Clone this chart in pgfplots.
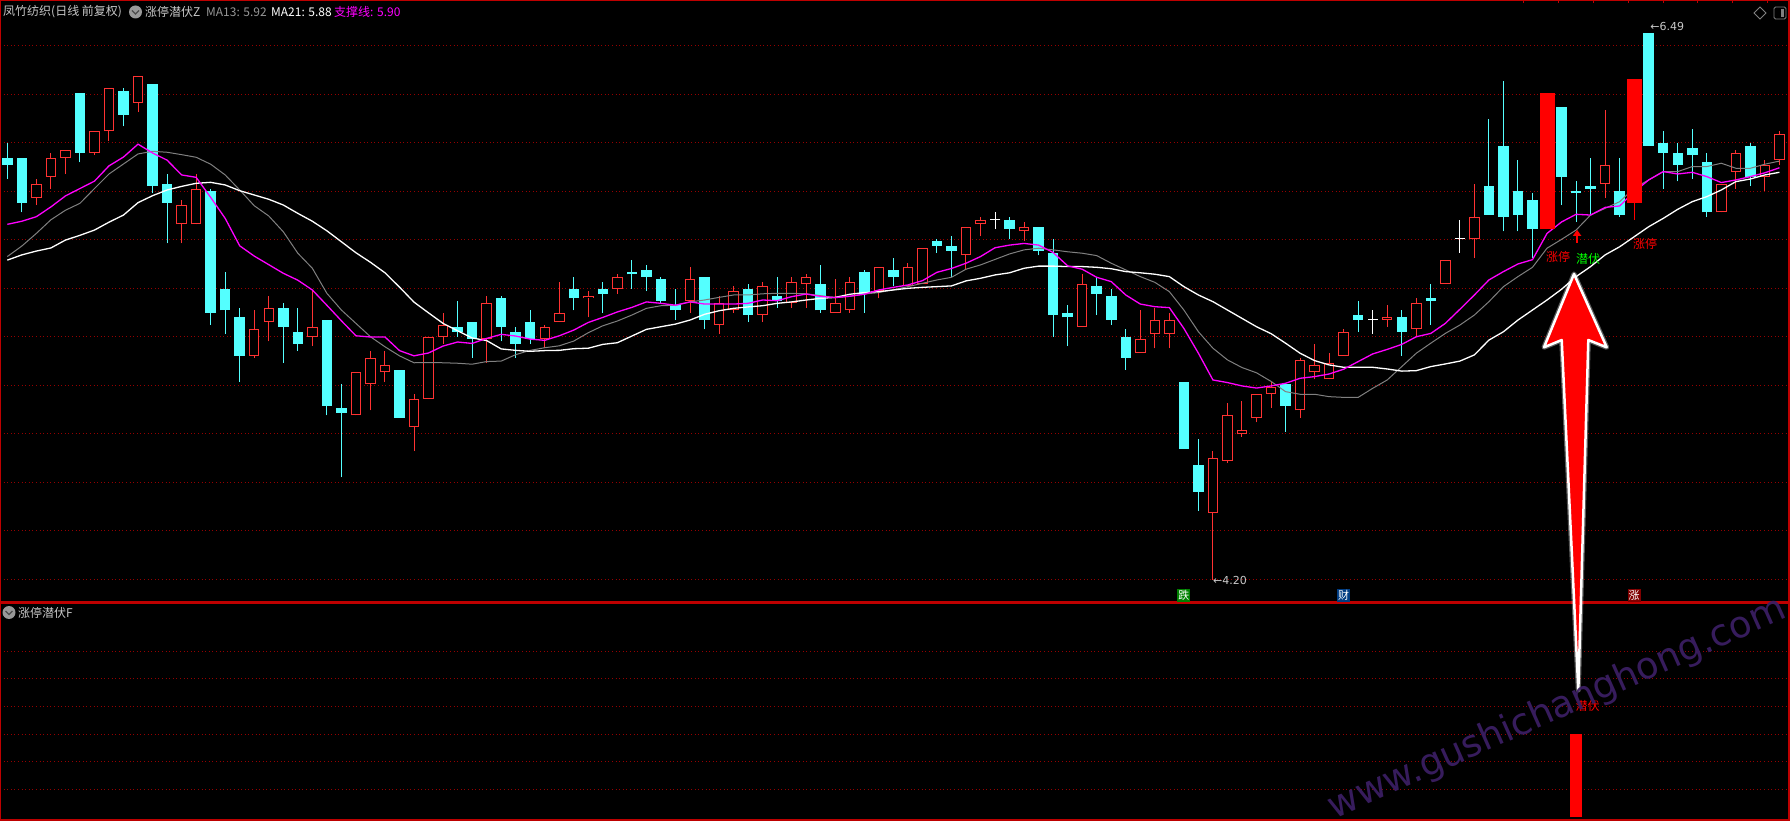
\documentclass[border=0pt]{standalone}
\usepackage{pgfplots}
\pgfplotsset{compat=1.18}
\usepackage{pgfplotstable}
\usepackage{fontspec}
\usetikzlibrary{arrows.meta}
\newfontfamily\cjk{Noto Sans CJK SC}
\newfontfamily\dv{DejaVu Sans}
\definecolor{cy}{RGB}{84,255,255}
\definecolor{rd}{RGB}{255,50,50}
\definecolor{lim}{RGB}{255,0,0}
\definecolor{gridred}{RGB}{150,0,0}
\definecolor{bord}{RGB}{190,0,0}
\definecolor{mag}{RGB}{255,0,255}
\definecolor{maG}{RGB}{128,128,128}
\definecolor{txtg}{RGB}{200,200,200}
\definecolor{wm}{RGB}{58,30,98}

% up candles (hollow red)
\pgfplotstableread{
i o h l c
2 5.80 5.88 5.77 5.86
3 5.89 5.99 5.84 5.97
4 5.97 6.00 5.90 6.00
6 5.99 6.08 5.98 6.08
7 6.08 6.26 6.04 6.26
9 6.20 6.31 6.16 6.31
12 5.69 5.79 5.61 5.77
13 5.69 5.90 5.69 5.84
17 5.14 5.33 5.13 5.25
18 5.28 5.39 5.20 5.34
21 5.22 5.41 5.18 5.26
24 4.89 5.07 4.89 5.07
25 5.02 5.16 4.91 5.13
26 5.07 5.16 5.03 5.10
28 4.84 4.98 4.74 4.96
29 4.96 5.22 4.96 5.22
30 5.22 5.32 5.19 5.27
33 5.21 5.39 5.11 5.36
37 5.21 5.27 5.17 5.26
38 5.28 5.45 5.28 5.32
40 5.38 5.41 5.30 5.39
42 5.42 5.48 5.40 5.47
47 5.37 5.51 5.32 5.46
49 5.27 5.39 5.23 5.36
50 5.33 5.43 5.32 5.41
52 5.31 5.45 5.28 5.43
54 5.36 5.47 5.34 5.45
55 5.44 5.48 5.34 5.47
57 5.32 5.46 5.32 5.36
58 5.33 5.47 5.32 5.45
60 5.41 5.51 5.38 5.51
62 5.43 5.53 5.43 5.51
63 5.44 5.59 5.44 5.59
66 5.56 5.68 5.50 5.68
67 5.69 5.72 5.64 5.71
70 5.66 5.70 5.62 5.68
74 5.26 5.48 5.26 5.44
78 5.15 5.33 5.15 5.21
79 5.23 5.34 5.17 5.29
80 5.23 5.32 5.17 5.29
83 4.48 4.74 4.20 4.71
84 4.70 4.94 4.69 4.89
85 4.81 4.95 4.80 4.83
86 4.88 4.98 4.86 4.98
87 4.98 5.03 4.92 5.01
89 4.91 5.13 4.88 5.12
90 5.07 5.19 5.04 5.10
91 5.04 5.15 5.04 5.11
92 5.14 5.25 5.14 5.24
95 5.29 5.35 5.26 5.30
97 5.25 5.38 5.22 5.36
99 5.44 5.54 5.44 5.54
101 5.63 5.86 5.55 5.72
110 5.86 6.17 5.80 5.94
118 5.74 5.86 5.74 5.86
119 5.91 6.00 5.84 5.99
121 5.89 5.96 5.83 5.94
122 5.96 6.08 5.94 6.07
}\redtab

% down candles (filled cyan)
\pgfplotstableread{
i o h l c
0 5.97 6.03 5.88 5.94
1 5.97 5.97 5.74 5.78
5 6.24 6.24 5.95 5.99
8 6.25 6.26 6.10 6.15
10 6.28 6.28 5.82 5.85
11 5.86 5.90 5.61 5.78
14 5.83 5.84 5.27 5.32
15 5.42 5.49 5.23 5.33
16 5.30 5.34 5.03 5.14
19 5.34 5.36 5.11 5.26
20 5.24 5.34 5.16 5.19
22 5.29 5.29 4.89 4.93
23 4.92 5.02 4.63 4.90
27 5.08 5.08 4.88 4.88
31 5.26 5.37 5.22 5.24
32 5.28 5.28 5.13 5.21
34 5.38 5.39 5.20 5.26
35 5.24 5.26 5.13 5.19
36 5.28 5.33 5.19 5.21
39 5.42 5.47 5.33 5.38
41 5.42 5.45 5.32 5.40
43 5.49 5.54 5.42 5.48
44 5.50 5.52 5.41 5.47
45 5.46 5.47 5.36 5.37
46 5.35 5.42 5.29 5.33
48 5.47 5.47 5.25 5.29
51 5.42 5.44 5.28 5.31
53 5.39 5.47 5.34 5.37
56 5.44 5.52 5.32 5.33
59 5.49 5.50 5.32 5.40
61 5.50 5.55 5.43 5.47
64 5.62 5.63 5.57 5.60
65 5.60 5.64 5.47 5.58
69 5.71 5.72 5.63 5.67
71 5.68 5.68 5.56 5.58
72 5.57 5.63 5.22 5.31
73 5.32 5.35 5.18 5.30
75 5.43 5.47 5.31 5.40
76 5.39 5.42 5.27 5.29
77 5.22 5.25 5.08 5.13
81 5.03 5.03 4.75 4.75
82 4.68 4.79 4.49 4.57
88 5.02 5.02 4.82 4.93
93 5.31 5.37 5.24 5.29
96 5.30 5.33 5.14 5.24
98 5.38 5.44 5.27 5.37
102 5.85 6.13 5.73 5.73
103 6.02 6.29 5.66 5.72
104 5.83 5.96 5.66 5.73
105 5.79 5.82 5.55 5.67
107 6.18 6.18 5.77 5.89
108 5.83 5.87 5.70 5.82
109 5.85 5.97 5.73 5.84
111 5.83 5.97 5.72 5.73
113 6.49 6.49 6.02 6.02
114 6.03 6.08 5.84 5.99
115 5.99 6.03 5.87 5.94
116 6.01 6.09 5.88 5.98
117 5.95 5.99 5.72 5.74
120 6.02 6.03 5.85 5.89
}\cyantab

% doji crosses (white)
\pgfplotstableread{
i o h l c
68 5.71 5.74 5.67 5.71
94 5.29 5.33 5.23 5.29
100 5.63 5.71 5.57 5.63
}\crosstab

% limit-up bars (filled red)
\pgfplotstableread{
i o h l c
106 5.67 6.24 5.67 6.24
112 5.78 6.30 5.71 6.30
}\limtab

% support line, MA13, MA21
\pgfplotstableread{
i sup m13 m21
0 5.690 5.555 5.540
1 5.703 5.599 5.562
2 5.722 5.652 5.578
3 5.763 5.709 5.591
4 5.809 5.749 5.624
5 5.840 5.778 5.644
6 5.871 5.840 5.666
7 5.935 5.901 5.699
8 5.972 5.943 5.729
9 6.026 5.985 5.781
10 5.989 5.996 5.810
11 5.959 5.992 5.834
12 5.897 5.982 5.849
13 5.887 5.971 5.862
14 5.803 5.942 5.866
15 5.715 5.897 5.855
16 5.600 5.834 5.831
17 5.557 5.768 5.813
18 5.521 5.725 5.795
19 5.485 5.659 5.771
20 5.456 5.569 5.736
21 5.415 5.506 5.703
22 5.351 5.401 5.663
23 5.286 5.331 5.617
24 5.223 5.275 5.571
25 5.218 5.219 5.531
26 5.218 5.177 5.487
27 5.161 5.139 5.427
28 5.139 5.110 5.364
29 5.151 5.111 5.319
30 5.180 5.110 5.275
31 5.197 5.108 5.244
32 5.191 5.104 5.214
33 5.212 5.115 5.203
34 5.229 5.117 5.168
35 5.222 5.144 5.162
36 5.209 5.162 5.158
37 5.204 5.173 5.161
38 5.223 5.181 5.162
39 5.247 5.201 5.169
40 5.279 5.236 5.171
41 5.300 5.265 5.187
42 5.323 5.285 5.194
43 5.342 5.310 5.222
44 5.365 5.338 5.250
45 5.359 5.349 5.261
46 5.351 5.351 5.272
47 5.365 5.365 5.289
48 5.356 5.373 5.313
49 5.356 5.384 5.328
50 5.356 5.394 5.338
51 5.359 5.394 5.344
52 5.373 5.399 5.349
53 5.370 5.401 5.359
54 5.387 5.401 5.365
55 5.398 5.399 5.373
56 5.388 5.391 5.380
57 5.383 5.383 5.384
58 5.389 5.388 5.397
59 5.397 5.398 5.404
60 5.415 5.404 5.408
61 5.426 5.416 5.415
62 5.436 5.429 5.422
63 5.454 5.443 5.426
64 5.489 5.457 5.429
65 5.505 5.468 5.432
66 5.527 5.502 5.453
67 5.555 5.520 5.464
68 5.592 5.543 5.478
69 5.603 5.566 5.487
70 5.610 5.583 5.506
71 5.603 5.590 5.515
72 5.572 5.583 5.515
73 5.516 5.575 5.513
74 5.502 5.569 5.513
75 5.468 5.559 5.510
76 5.450 5.527 5.504
77 5.394 5.499 5.492
78 5.356 5.471 5.487
79 5.345 5.447 5.481
80 5.341 5.408 5.471
81 5.254 5.331 5.429
82 5.150 5.240 5.394
83 5.038 5.171 5.366
84 5.027 5.122 5.331
85 5.013 5.090 5.296
86 5.004 5.068 5.261
87 5.013 5.032 5.232
88 5.024 4.989 5.192
89 5.045 4.978 5.150
90 5.052 4.978 5.119
91 5.063 4.968 5.101
92 5.083 4.965 5.091
93 5.115 4.965 5.091
94 5.147 5.003 5.091
95 5.166 5.038 5.084
96 5.187 5.094 5.075
97 5.219 5.150 5.077
98 5.233 5.192 5.094
99 5.275 5.233 5.105
100 5.334 5.268 5.117
101 5.394 5.310 5.143
102 5.457 5.366 5.205
103 5.492 5.429 5.240
104 5.524 5.471 5.289
105 5.542 5.510 5.331
106 5.652 5.590 5.373
107 5.700 5.627 5.418
108 5.732 5.666 5.471
109 5.729 5.729 5.513
110 5.761 5.757 5.562
111 5.767 5.785 5.596
112 5.826 5.842 5.638
113 5.876 5.876 5.680
114 5.911 5.911 5.715
115 5.901 5.911 5.753
116 5.908 5.932 5.785
117 5.890 5.932 5.806
118 5.865 5.946 5.834
119 5.876 5.925 5.869
120 5.890 5.925 5.880
121 5.906 5.942 5.897
122 5.927 5.955 5.908
}\matab

\pgfplotsset{
 panel/.style={scale only axis, width=1789pt, xmin=-0.503, xmax=122.66,
   xtick=\empty, ymajorgrids, ymajorticks=false, major tick length=0pt,
   grid style={draw=gridred, line width=1pt, dash pattern=on 1pt off 2.6pt},
   axis line style={draw=bord, line width=1.3pt},
   axis background/.style={fill=black}, clip mode=individual},
 seg/.style 2 args={draw=none, mark=none, forget plot,
   error bars/y dir=plus, error bars/y explicit, error bars/error mark=none,
   error bars/error bar style={draw=#1, line width=#2, line cap=butt, solid}},
}

\begin{document}
\begin{tikzpicture}[x=1pt,y=1pt]
\useasboundingbox (0,0) rectangle (1790,820);
\fill[black] (0,0) rectangle (1790,820);

% ---------------- top panel ----------------
\begin{axis}[panel, at={(0pt,218pt)}, anchor=south west, height=602pt,
  ymin=4.1076, ymax=6.63,
  ytick={4.2017,4.4051,4.6085,4.8120,5.0154,5.2188,5.4222,5.6257,5.8291,6.0325,6.2359,6.4394}]
% wicks
\addplot[seg={cy}{1pt}] table[x=i, y=l, y error expr=\thisrow{h}-\thisrow{l}] {\cyantab};
\addplot[seg={rd}{1pt}] table[x=i, y=l, y error expr=\thisrow{h}-\thisrow{l}] {\redtab};
\addplot[seg={white}{1pt}] table[x=i, y=l, y error expr=\thisrow{h}-\thisrow{l}] {\crosstab};
% bodies
\addplot[seg={cy}{10.5pt}] table[x=i, y=c, y error expr=\thisrow{o}-\thisrow{c}] {\cyantab};
\addplot[seg={rd}{10.5pt}] table[x=i, y=o, y error expr=\thisrow{c}-\thisrow{o}] {\redtab};
\addplot[seg={black}{8.5pt}] table[x=i, y expr=\thisrow{o}+0.0042, y error expr=\thisrow{c}-\thisrow{o}-0.0084] {\redtab};
\addplot[only marks, mark=-, mark size=5.2pt, mark options={draw=white, line width=1.3pt}, forget plot] table[x=i, y=o] {\crosstab};
% lines
\addplot[maG, line width=1pt, mark=none] table[x=i, y=m13] {\matab};
\addplot[white, line width=1.3pt, mark=none] table[x=i, y=m21] {\matab};
\addplot[mag, line width=1.3pt, mark=none] table[x=i, y=sup] {\matab};
% limit-up bars
\addplot[seg={lim}{1.2pt}] table[x=i, y=l, y error expr=\thisrow{h}-\thisrow{l}] {\limtab};
\addplot[seg={lim}{15pt}] table[x=i, y=o, y error expr=\thisrow{c}-\thisrow{o}] {\limtab};

% annotations
\node[anchor=west, inner sep=0pt, text=txtg, font=\dv\fontsize{11}{12}\selectfont] at (axis cs:113.1,6.517) {←6.49};
\node[anchor=west, inner sep=0pt, text=txtg, font=\dv\fontsize{11}{12}\selectfont] at (axis cs:83.0,4.196) {←4.20};
\node[inner sep=0pt, text=lim, font=\cjk\fontsize{12}{13}\selectfont] at (axis cs:106.76,5.553) {涨停};
\node[inner sep=0pt, text=green, font=\cjk\fontsize{12}{13}\selectfont] at (axis cs:108.83,5.545) {潜伏};
\node[inner sep=0pt, text=lim, font=\cjk\fontsize{12}{13}\selectfont] at (axis cs:112.75,5.608) {涨停};
\draw[lim, line width=2pt, -{Triangle[width=8pt,length=6pt]}] (axis cs:108.07,5.612) -- (axis cs:108.07,5.667);
\node[fill={rgb,255:red,0;green,128;blue,0}, text=white, inner sep=1pt, minimum size=13pt, font=\cjk\fontsize{11}{11}\selectfont] at (axis cs:81,4.135) {跌};
\node[fill={rgb,255:red,0;green,60;blue,130}, text=white, inner sep=1pt, minimum size=13pt, font=\cjk\fontsize{11}{11}\selectfont] at (axis cs:92,4.135) {财};
\node[fill={rgb,255:red,128;green,0;blue,0}, text=white, inner sep=1pt, minimum size=13pt, font=\cjk\fontsize{11}{11}\selectfont] at (axis cs:112,4.135) {涨};
\end{axis}

% ---------------- bottom panel ----------------
\begin{axis}[panel, at={(0pt,0pt)}, anchor=south west, height=217pt,
  ymin=-0.1, ymax=7.734, ytick={1,2,3,4,5,6}]
\addplot[ycomb, draw=lim, line width=12.5pt, mark=none] coordinates {(108,3)};
\node[anchor=west, inner sep=0pt, text=lim, font=\cjk\fontsize{12}{13}\selectfont] at (axis cs:107.95,4.0) {潜伏};
\end{axis}

% ---------------- headers ----------------
\begin{scope}[font=\cjk\fontsize{12}{14}\selectfont]
\node[anchor=west, inner sep=0pt, text=txtg] at (3,808) {凤竹纺织(日线 前复权)};
\fill[gray!80] (135.5,808) circle (6.5);
\draw[black!70, line width=1.2pt] (132,809.5) -- (135.5,806) -- (139,809.5);
\node[anchor=west, inner sep=0pt, text=txtg] at (145,808) {涨停潜伏Z};
\node[anchor=west, inner sep=0pt, text={rgb,255:red,150;green,150;blue,150}] at (206,808) {MA13: 5.92};
\node[anchor=west, inner sep=0pt, text=white] at (271,808) {MA21: 5.88};
\node[anchor=west, inner sep=0pt, text=mag] at (334,808) {支撑线: 5.90};
\fill[gray!80] (9,207.5) circle (6.5);
\draw[black!70, line width=1.2pt] (5.5,209) -- (9,205.5) -- (12.5,209);
\node[anchor=west, inner sep=0pt, text=txtg] at (18,207.5) {涨停潜伏F};
\end{scope}

% top-right icons and ticks
\draw[gray, line width=0.9pt] (1754,807) -- (1760,813) -- (1766,807) -- (1760,801) -- cycle;
\draw[gray, line width=0.9pt, rounded corners=1.5pt] (1774,801) rectangle (1786,813);
\fill[gray] (1780.5,803) rectangle (1784,811);
\foreach \xx in {1523.8,1558.6,1593.4,1628.2,1663,1697.8,1732.6,1767.4}
  \draw[bord, line width=1pt] (\xx,820) -- (\xx,816.5);

% big arrow
\draw[white, opacity=0.35, line width=5pt, line join=round] (1574,546) -- (1606.7,472.7) -- (1588.3,480) -- (1578.3,130) -- (1561.7,480) -- (1544,472.7) -- cycle;
\filldraw[fill=lim, draw=white, line width=2.5pt, line join=round] (1574,546) -- (1606.7,472.7) -- (1588.3,480) -- (1578.3,130) -- (1561.7,480) -- (1544,472.7) -- cycle;

% watermark
\node[rotate=24, text=wm, opacity=0.95, font=\dv\fontsize{37}{42}\selectfont] at (1557,111) {www.gushichanghong.com};
\end{tikzpicture}
\end{document}
